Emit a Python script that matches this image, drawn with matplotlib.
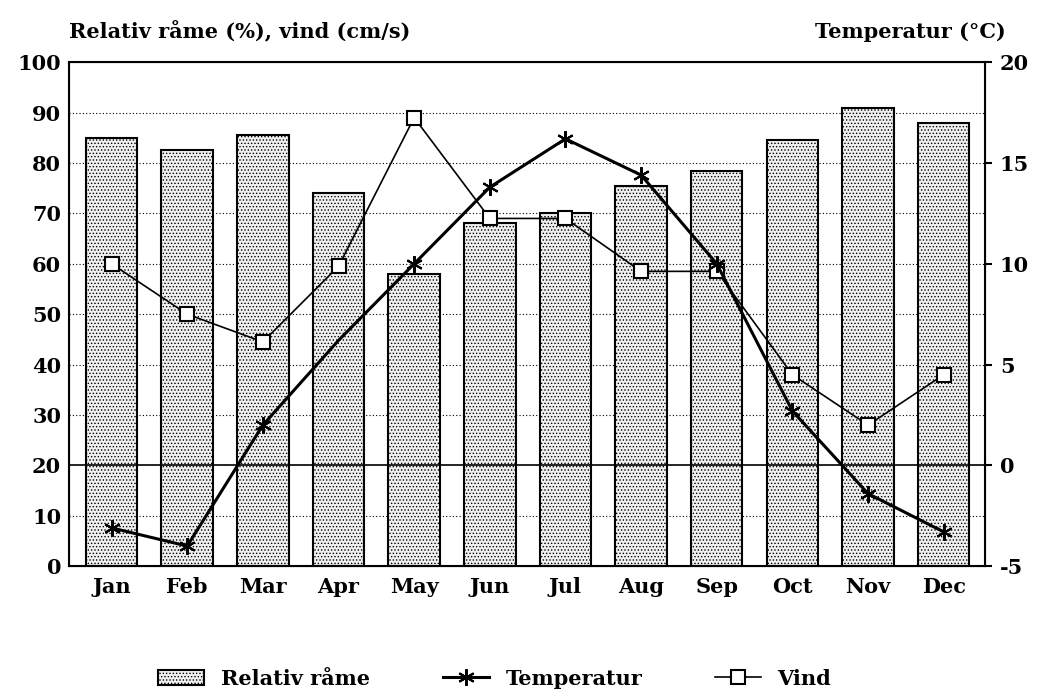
import matplotlib.pyplot as plt
import numpy as np

months = ["Jan", "Feb", "Mar", "Apr", "May", "Jun", "Jul", "Aug", "Sep", "Oct", "Nov", "Dec"]
rel_rame = [85, 82.5, 85.5, 74, 58, 68, 70, 75.5, 78.5, 84.5, 91, 88]
temperatur = [-3.1, -4.0, 2.0, 6.2, 10.0, 13.8, 16.2, 14.4, 10.0, 2.7, -1.4, -3.3]
vind = [60, 50, 44.5, 59.5, 89, 69, 69, 58.5, 58.5, 38, 28, 38]

plt.rcParams["font.family"] = "DejaVu Serif"
plt.rcParams["font.weight"] = "bold"
plt.rcParams["axes.unicode_minus"] = False
plt.rcParams["hatch.color"] = "#666666"
plt.rcParams["hatch.linewidth"] = 0.6

fig = plt.figure(figsize=(10.53, 6.99), dpi=100)
ax = fig.add_axes([0.066, 0.19, 0.869, 0.721])
x = np.arange(len(months))

bars = ax.bar(x, rel_rame, width=0.68, color="#f0f0f0", edgecolor="black",
              linewidth=1.5, hatch=".....", label="Relativ råme", zorder=2)
for y in range(10, 100, 10):
    if y != 20:
        ax.axhline(y, color="black", lw=0.8, ls=(0, (1, 2)), zorder=1)
ax.axhline(20, color="black", lw=1.2, zorder=3)

ax.set_xlim(-0.556, 11.54)
ax.set_ylim(0, 100)
ax.set_yticks(range(0, 101, 10))
ax.set_xticks(x)
ax.set_xticklabels(months)
ax.tick_params(axis="x", direction="in", length=8, width=1.5, labelsize=15, pad=8)
ax.tick_params(axis="y", length=0, labelsize=15, pad=6)
for s in ax.spines.values():
    s.set_linewidth(1.5)

ax2 = ax.twinx()
ax2.set_ylim(-5, 20)
ax2.set_yticks(range(-5, 21, 5))
ax2.tick_params(axis="y", direction="out", length=5, width=1.5, labelsize=15, pad=6)

# temperature on the right axis (no marker drawn at Apr in the original)
t_line, = ax2.plot(x, temperatur, color="black", lw=2.2, marker=(6, 2, 0),
                   markersize=12, markeredgewidth=1.5,
                   markevery=[i for i in range(12) if i != 3], label="Temperatur", zorder=5)
v_line, = ax.plot(x, vind, color="black", lw=1.2, marker="s", markersize=10,
                  markerfacecolor="white", markeredgewidth=1.5, label="Vind", zorder=5)

fig.text(0.066, 0.945, "Relativ råme (%), vind (cm/s)", fontsize=15, ha="left")
fig.text(0.955, 0.945, "Temperatur (°C)", fontsize=15, ha="right")

fig.legend(handles=[bars, t_line, v_line], loc="lower center", ncol=3,
           bbox_to_anchor=(0.47, -0.012), frameon=False, fontsize=15,
           handlelength=2.2, columnspacing=3.5)

fig.savefig("out.png", dpi=100)
